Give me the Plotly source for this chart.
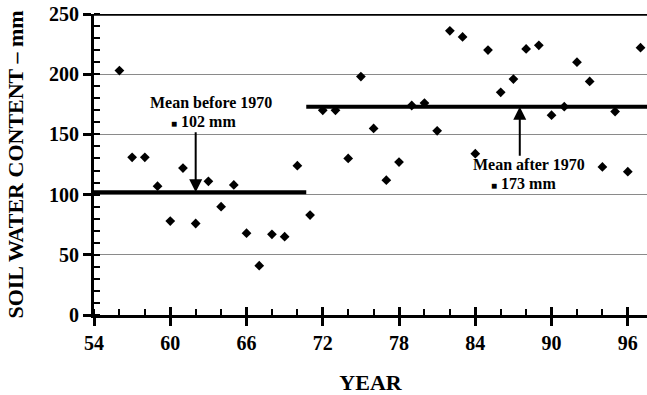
import plotly.graph_objects as go

years = list(range(56, 98))
soil_water = [203, 131, 131, 107, 78, 122, 76, 111, 90, 108, 68, 41, 67, 65,
              124, 83, 170, 170, 130, 198, 155, 112, 127, 174, 176, 153, 236, 231,
              134, 220, 185, 196, 221, 224, 166, 173, 210, 194, 123, 169, 119, 222]

mean_before = 102
mean_after = 173
split_year = 70.7
x_min, x_max = 54, 97.51

FONT = "Liberation Serif"

fig = go.Figure()

fig.add_trace(go.Scatter(x=[x_min, split_year], y=[mean_before, mean_before], mode="lines",
                         line=dict(color="black", width=4), showlegend=False, hoverinfo="skip"))
fig.add_trace(go.Scatter(x=[split_year, x_max], y=[mean_after, mean_after], mode="lines",
                         line=dict(color="black", width=4), showlegend=False, hoverinfo="skip"))
fig.add_trace(go.Scatter(x=years, y=soil_water, mode="markers",
                         marker=dict(symbol="diamond", size=7.5, color="black"),
                         showlegend=False))
# invisible trace for the overlay axis carrying inside major ticks
fig.add_trace(go.Scatter(x=[x_min, x_max], y=[0, 0], xaxis="x2", mode="markers",
                         marker=dict(opacity=0), showlegend=False, hoverinfo="skip"))

fig.update_layout(
    width=647, height=395,
    margin=dict(l=94, r=0, t=14, b=80),
    paper_bgcolor="white", plot_bgcolor="white",
    font=dict(family=FONT, color="black", size=20, weight="bold"),
    xaxis=dict(range=[x_min, x_max], tick0=54, dtick=6, ticks="outside", ticklen=8,
               tickwidth=2.5, tickcolor="black", showline=True, linewidth=3, linecolor="black",
               showgrid=False, zeroline=False,
               minor=dict(dtick=2, tick0=54, ticks="inside", ticklen=6, tickwidth=2, tickcolor="black"),
               tickfont=dict(size=20),
               title=dict(text="YEAR", font=dict(size=22), standoff=22)),
    xaxis2=dict(range=[x_min, x_max], overlaying="x", anchor="y", side="bottom",
                tick0=54, dtick=6, ticks="inside", ticklen=8, tickwidth=2.5, tickcolor="black",
                showticklabels=False, showline=False, showgrid=False, zeroline=False),
    yaxis=dict(range=[0, 250], dtick=50, ticks="outside", ticklen=8, tickwidth=2.5,
               tickcolor="black", showline=True, linewidth=3, linecolor="black",
               showgrid=True, gridcolor="#8a8a8a", gridwidth=1, zeroline=False,
               minor=dict(dtick=10, ticks="inside", ticklen=6, tickwidth=2, tickcolor="black"),
               tickfont=dict(size=20),
               title=dict(text="SOIL WATER CONTENT – mm", font=dict(size=22), standoff=20)),
)

fig.add_shape(type="line", xref="paper", yref="y", x0=-0.013, x1=1, y0=250, y1=250,
              line=dict(color="black", width=3.5))

# arrows
fig.add_annotation(x=62, y=mean_before, ax=62, ay=153, xref="x", yref="y", axref="x", ayref="y",
                   text="", showarrow=True, arrowhead=2, arrowsize=1.3, arrowwidth=2,
                   arrowcolor="black", standoff=0)
fig.add_annotation(x=87.5, y=mean_after, ax=87.5, ay=131, xref="x", yref="y", axref="x", ayref="y",
                   text="", showarrow=True, arrowhead=2, arrowsize=1.3, arrowwidth=2,
                   arrowcolor="black", standoff=0)

SQ = "<span style='font-size:10px'>■</span>"
ann_font = dict(family=FONT, size=16, color="black", weight="bold")
fig.add_annotation(x=63.2, y=176.1, text="Mean before 1970", showarrow=False, font=ann_font,
                   borderpad=0)
fig.add_annotation(x=62.65, y=161.1, text=SQ + " 102 mm", showarrow=False, font=ann_font,
                   borderpad=0)
fig.add_annotation(x=88.2, y=124.6, text="Mean after 1970", showarrow=False, font=ann_font,
                   borderpad=0)
fig.add_annotation(x=87.8, y=109.6, text=SQ + " 173 mm", showarrow=False, font=ann_font,
                   borderpad=0)

fig.write_html("out.html")
